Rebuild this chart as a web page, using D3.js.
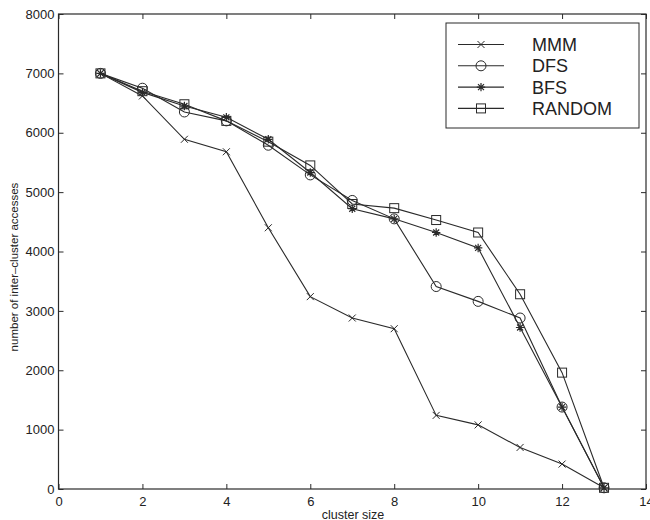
<!DOCTYPE html>
<html><head><meta charset="utf-8">
<script src="https://cdn.jsdelivr.net/npm/d3@7"></script>
<style>body{margin:0;background:#fff}svg{display:block}text{font-family:"Liberation Sans",Arial,sans-serif;fill:#222}</style>
</head><body><svg id="c" width="650" height="520"></svg>
<script>
const clusterSizes = [1,2,3,4,5,6,7,8,9,10,11,12,13];
const mmm    = [7000,6620,5890,5680,4400,3240,2880,2700,1240,1080,700,420,20];
const dfs    = [7000,6750,6350,6200,5790,5290,4860,4550,3410,3160,2880,1380,20];
const bfs    = [7000,6680,6450,6260,5890,5330,4720,4550,4320,4060,2720,1380,20];
const random = [7000,6700,6480,6200,5850,5450,4800,4730,4530,4320,3280,1960,20];
const seriesNames = ["MMM","DFS","BFS","RANDOM"];
const markerTypes = ["x","circle","star","square"];
const xTicks = [0,2,4,6,8,10,12,14];
const yTicks = [0,1000,2000,3000,4000,5000,6000,7000,8000];

const series = [mmm,dfs,bfs,random].map((v,i)=>({name:seriesNames[i],marker:markerTypes[i],values:v}));
const svg = d3.select("#c");
const L=58.5,R=646,T=14,B=489;
const x = d3.scaleLinear().domain([0,14]).range([L,R]);
const y = d3.scaleLinear().domain([0,8000]).range([B,T]);
const ink="#2a2a2a";
const fmt=d3.format("d");

svg.append("rect").attr("x",L).attr("y",T).attr("width",R-L).attr("height",B-T)
  .attr("fill","none").attr("stroke",ink).attr("stroke-width",1.2);

const tk=5;
const gB = svg.append("g").attr("transform",`translate(0,${B})`).call(d3.axisBottom(x).tickValues(xTicks).tickSize(-tk).tickPadding(8).tickFormat(fmt));
const gT = svg.append("g").attr("transform",`translate(0,${T})`).call(d3.axisTop(x).tickValues(xTicks).tickSize(-tk).tickFormat(""));
const gL = svg.append("g").attr("transform",`translate(${L},0)`).call(d3.axisLeft(y).tickValues(yTicks).tickSize(-tk).tickPadding(4).tickFormat(fmt));
const gR = svg.append("g").attr("transform",`translate(${R},0)`).call(d3.axisRight(y).tickValues(yTicks).tickSize(-tk).tickFormat(""));
[gB,gT,gL,gR].forEach(g=>{g.select(".domain").remove();g.selectAll("line").attr("stroke",ink);
  g.selectAll("text").attr("font-size",13).attr("fill",ink).style("font-family","Liberation Sans, Arial, sans-serif");});
gB.selectAll("text").attr("dy","0.71em");

svg.append("text").attr("x",353).attr("y",519).attr("text-anchor","middle").attr("font-size",12.5).text("cluster size");
svg.append("text").attr("transform",`translate(18,267) rotate(-90)`).attr("text-anchor","middle").attr("font-size",11.5).text("number of inter\u2013cluster accesses");

function marker(g,type,cx,cy){
  const s=g.append("g").attr("transform",`translate(${cx},${cy})`).attr("fill","none").attr("stroke",ink).attr("stroke-width",1);
  if(type==="x"){const a=3.5;s.append("path").attr("d",`M${-a},${-a}L${a},${a}M${-a},${a}L${a},${-a}`);}
  else if(type==="circle"){s.append("circle").attr("r",5);}
  else if(type==="square"){s.append("rect").attr("x",-4.5).attr("y",-4.5).attr("width",9).attr("height",9);}
  else if(type==="star"){const a=4.2,b=3;s.append("path").attr("d",`M0,${-a}L0,${a}M${-a},0L${a},0M${-b},${-b}L${b},${b}M${-b},${b}L${b},${-b}`).attr("stroke-width",1.2);}
}
const line=d3.line().x((d,i)=>x(clusterSizes[i])).y(d=>y(d));
series.forEach(s=>{
  const g=svg.append("g");
  g.append("path").attr("d",line(s.values)).attr("fill","none").attr("stroke",ink).attr("stroke-width",1.1);
  s.values.forEach((v,i)=>marker(g,s.marker,x(clusterSizes[i]),y(v)));
});

// legend
const lg=svg.append("g");
lg.append("rect").attr("x",446).attr("y",23).attr("width",193).attr("height",105).attr("fill","#fff").attr("stroke",ink).attr("stroke-width",1);
series.forEach((s,i)=>{
  const yy=44.5+i*21.3;
  lg.append("line").attr("x1",458).attr("x2",504).attr("y1",yy).attr("y2",yy).attr("stroke",ink).attr("stroke-width",1.1);
  marker(lg,s.marker,481,yy);
  lg.append("text").attr("x",532).attr("y",yy).attr("dy","0.36em").attr("font-size",18).text(s.name);
});
</script></body></html>
